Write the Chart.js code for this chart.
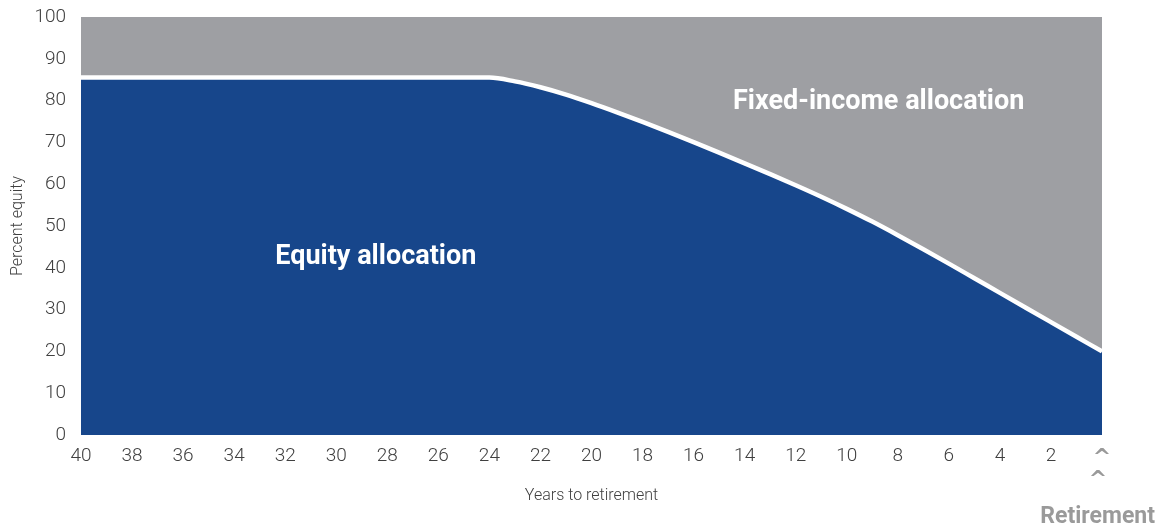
<!DOCTYPE html>
<html>
<head>
<meta charset="utf-8">
<script src="https://cdn.jsdelivr.net/npm/chart.js@4/dist/chart.umd.min.js"></script>
<style>
  html, body { margin: 0; padding: 0; background: #fff; }
  #wrap { width: 1159px; height: 529px; position: relative; }
</style>
</head>
<body>
<div id="wrap"><canvas id="glide"></canvas></div>
<script>
// years to retirement (x) and percent in equities (y)
const years = [40, 39, 38, 37, 36, 35, 34, 33, 32, 31, 30, 29, 28, 27, 26, 25, 24,
  23, 22, 21, 20, 19, 18, 17, 16, 15, 14, 13, 12, 11, 10, 9, 8, 7, 6, 5, 4, 3, 2, 1, 0];
const equity = [85.5, 85.5, 85.5, 85.5, 85.5, 85.5, 85.5, 85.5, 85.5, 85.5, 85.5, 85.5, 85.5, 85.5, 85.5, 85.5, 85.5,
  84.6, 83.2, 81.45, 79.4, 77.2, 74.9, 72.5, 70.05, 67.55, 65.0, 62.4, 59.75, 57.0, 54.1, 51.05,
  47.8, 44.45, 41.0, 37.5, 34.0, 30.5, 27.0, 23.5, 20];
const fullScale = years.map(() => 100);

const BLUE = "#17468b";
const GREY = "#9e9fa3";
const TEXT = "#404040";
const MUTED = "#9a9a9a";

const isRetirement = c => c && c.tick && c.tick.value === 0;

// labels inside the areas plus the retirement marker under the axis
const labelsPlugin = {
  id: "areaLabels",
  afterDatasetsDraw(chart) {
    const ctx = chart.ctx;
    const x = chart.scales.x;
    const y = chart.scales.y;
    ctx.save();
    ctx.fillStyle = "#ffffff";
    ctx.textAlign = "center";
    ctx.textBaseline = "middle";
    ctx.font = "bold 27px Roboto";
    ctx.fillText("Equity allocation", x.getPixelForValue(28.45), y.getPixelForValue(42.5));
    ctx.fillText("Fixed-income allocation", x.getPixelForValue(8.75), y.getPixelForValue(79.6));
    ctx.restore();
  },
  afterDraw(chart) {
    const ctx = chart.ctx;
    const px = chart.scales.x.getPixelForValue(0);
    ctx.save();
    ctx.fillStyle = MUTED;
    ctx.textBaseline = "middle";
    ctx.textAlign = "center";
    ctx.font = "bold 22px 'DejaVu Sans'";
    ctx.fillText("^", px - 4, 480);
    ctx.textAlign = "right";
    ctx.font = "bold 23px Roboto";
    ctx.fillText("Retirement", 1155, 517);
    ctx.restore();
  }
};

new Chart(document.getElementById("glide"), {
  type: "line",
  data: {
    datasets: [
      {
        label: "Equity allocation",
        data: years.map((yr, i) => ({ x: yr, y: equity[i] })),
        borderColor: "#ffffff",
        borderWidth: 4.5,
        backgroundColor: BLUE,
        fill: "origin",
        pointRadius: 0,
        cubicInterpolationMode: "monotone"
      },
      {
        label: "Fixed-income allocation",
        data: years.map((yr, i) => ({ x: yr, y: fullScale[i] })),
        borderWidth: 0,
        borderColor: GREY,
        backgroundColor: GREY,
        fill: "-1",
        pointRadius: 0
      }
    ]
  },
  options: {
    responsive: true,
    maintainAspectRatio: false,
    animation: false,
    layout: { padding: { top: 17, right: 57, bottom: 0, left: 0 } },
    plugins: {
      legend: { display: false },
      tooltip: { enabled: false }
    },
    scales: {
      x: {
        type: "linear",
        reverse: true,
        min: 0,
        max: 40,
        grid: { display: false, drawTicks: false },
        border: { display: false },
        afterFit: s => { s.height = 94; s.paddingLeft = 0; s.paddingRight = 0; },
        ticks: {
          stepSize: 2,
          padding: 10,
          maxRotation: 0,
          autoSkip: false,
          color: c => (isRetirement(c) ? MUTED : TEXT),
          font: c => (isRetirement(c)
            ? { family: "DejaVu Sans", size: 22, weight: "bold" }
            : { family: "Roboto", size: 19, weight: "300" }),
          callback: v => (v === 0 ? "^" : v)
        },
        title: {
          display: true,
          text: "Years to retirement",
          color: TEXT,
          font: { family: "Roboto", size: 16, weight: "300" },
          padding: { top: 4, bottom: 23 }
        }
      },
      y: {
        type: "linear",
        min: 0,
        max: 100,
        grid: { display: false, drawTicks: false },
        border: { display: false },
        afterFit: s => { s.width = 81; s.paddingTop = 0; s.paddingBottom = 0; },
        ticks: {
          stepSize: 10,
          padding: 15,
          color: TEXT,
          font: { family: "Roboto", size: 19, weight: "300" }
        },
        title: {
          display: true,
          text: "Percent equity",
          color: TEXT,
          font: { family: "Roboto", size: 16, weight: "300" },
          padding: { top: 8, bottom: 0 }
        }
      }
    }
  },
  plugins: [labelsPlugin]
});
</script>
</body>
</html>
